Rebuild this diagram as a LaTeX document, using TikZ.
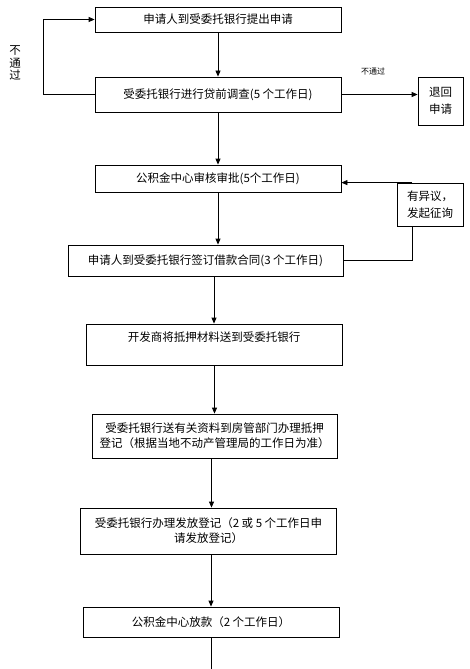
\documentclass[tikz,border=0pt]{standalone}
\usepackage{fontspec}
\setmainfont{Noto Sans CJK SC}
\usetikzlibrary{arrows.meta}

\tikzset{
  stage/.style={draw, line width=0.8pt, align=center, inner sep=2pt,
    font=\fontsize{11.5}{16}\selectfont},
  flow/.style={line width=0.8pt, -{Triangle[length=6pt,width=5pt]}},
  link/.style={line width=0.8pt}
}

\begin{document}
\begin{tikzpicture}[x=1pt,y=-1pt]
\useasboundingbox (0,0) rectangle (470,669);

% main steps
\node[stage, minimum width=246, minimum height=25] (apply) at (218,19.5) {申请人到受委托银行提出申请};
\node[stage, minimum width=246, minimum height=35] (survey) at (218,94.5) {受委托银行进行贷前调查(5 个工作日)};
\node[stage, minimum width=246, minimum height=27] (audit) at (218,178.5) {公积金中心审核审批(5个工作日)};
\node[stage, minimum width=275, minimum height=31] (sign) at (205.5,260.5) {申请人到受委托银行签订借款合同(3 个工作日)};
\node[stage, minimum width=256, minimum height=41] (deliver) at (214,344.5) {开发商将抵押材料送到受委托银行\\\mbox{}};
\node[stage, minimum width=245, minimum height=44, font=\fontsize{11.5}{15}\selectfont] (mortgage) at (214.5,436) {受委托银行送有关资料到房管部门办理抵押\\登记（根据当地不动产管理局的工作日为准）};
\node[stage, minimum width=256, minimum height=46, font=\fontsize{11.5}{15}\selectfont] (register) at (208.5,531) {受委托银行办理发放登记（2 或 5 个工作日申\\请发放登记）};
\node[stage, minimum width=256, minimum height=30] (loan) at (211,622) {公积金中心放款（2 个工作日）};

% side boxes
\node[stage, minimum width=45, minimum height=48, font=\fontsize{11.5}{17}\selectfont] (back) at (440.5,101) {退回\\申请};
\node[stage, minimum width=66, minimum height=43, align=left, font=\fontsize{11.5}{17}\selectfont] (ask) at (430,204.5) {有异议，\\发起征询};

% labels
\node[font=\fontsize{11.5}{12.5}\selectfont, align=center] (failL) at (15,63) {不\\通\\过};
\node[font=\fontsize{8}{9}\selectfont] (failR) at (373,71) {不通过};

\coordinate (loopL) at (43,94.5);
\coordinate (askleg) at (412,226);
\coordinate (tail) at (211,669);

% connectors
\draw[flow] (apply) -- (survey);
\draw[flow] (survey.west) -- (loopL) |- (apply.west);
\draw[flow] (survey.east) -- (survey.east -| back.west);
\draw[flow] (survey) -- (audit);
\draw[flow] (audit.south) -- (audit.south |- sign.north);
\draw[link] (sign.east) -| (askleg);
\draw[flow] (askleg |- ask.north) -- (audit.east |- ask.north);
\draw[flow] (sign.south -| deliver.north) -- (deliver.north);
\draw[flow] (deliver.south -| mortgage.north) -- (mortgage.north);
\draw[flow] ([xshift=-3pt]mortgage.south) -- ([xshift=-3pt]mortgage.south |- register.north);
\draw[flow] (register.south -| loan.north) -- (loan.north);
\draw[link] (loan.south) -- (tail);
\end{tikzpicture}
\end{document}
